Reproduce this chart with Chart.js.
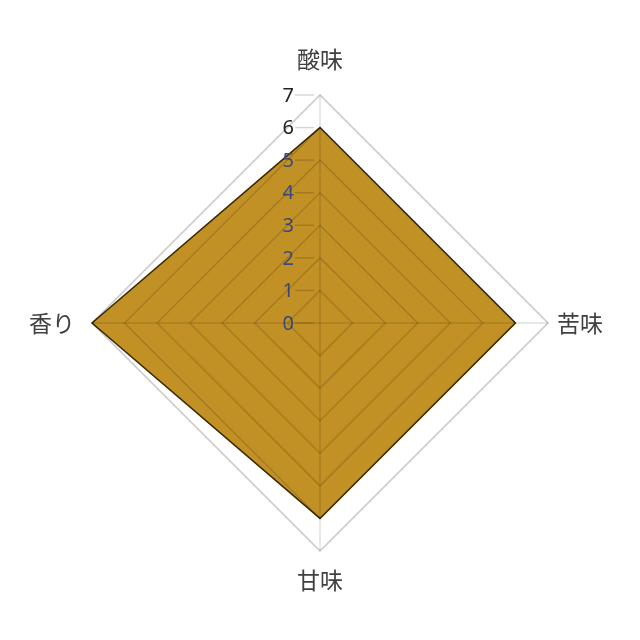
<!DOCTYPE html>
<html>
<head>
<meta charset="utf-8">
<script src="https://cdn.jsdelivr.net/npm/chart.js@4"></script>
<style>
  html, body { margin: 0; padding: 0; background: #fff; }
  #wrap { width: 640px; height: 640px; }
</style>
</head>
<body>
<div id="wrap"><canvas id="myChart" width="640" height="640"></canvas></div>
<script>
const tasteLabels = ['酸味', '苦味', '甘味', '香り']
const tasteScores = [6, 6, 6, 7]
const tickValues = [0, 1, 2, 3, 4, 5, 6, 7]
const labelPadding = [22, 9, 15, 17]

// tick numbers sit left of the vertical axis with a short dash
const tickMarks = {
  id: 'tickMarks',
  afterDatasetsDraw(chart) {
    const s = chart.scales.r
    const ctx = chart.ctx
    ctx.save()
    ctx.strokeStyle = 'rgba(0, 0, 0, 0.16)'
    ctx.lineWidth = 1.5
    ctx.font = '20px "Noto Sans"'
    ctx.textAlign = 'right'
    ctx.textBaseline = 'middle'
    tickValues.forEach(function (v) {
      const y = s.yCenter - s.getDistanceFromCenterForValue(v)
      ctx.beginPath()
      ctx.moveTo(s.xCenter - 25, y)
      ctx.lineTo(s.xCenter - 6, y)
      ctx.stroke()
      ctx.fillStyle = v <= 5 ? '#3b4a7c' : '#222'
      ctx.fillText(String(v), s.xCenter - 26, y + 1)
    })
    ctx.restore()
  },
}

const ctx = document.getElementById('myChart').getContext('2d')
const myChart = new Chart(ctx, {
  type: 'radar',
  data: {
    labels: tasteLabels,
    datasets: [
      {
        data: tasteScores,
        backgroundColor: '#c19126',
        borderColor: '#3d2900',
        borderWidth: 1.5,
        pointRadius: 0,
        pointHoverRadius: 0,
      },
    ],
  },
  options: {
    responsive: false,
    animation: false,
    layout: {
      padding: { left: 25, right: 33, top: 0, bottom: 0 },
    },
    plugins: {
      legend: { display: false },
      tooltip: { enabled: false },
    },
    scales: {
      r: {
        min: 0,
        max: 7,
        ticks: { stepSize: 1, display: false },
        grid: {
          color: function (c) {
            return c.tick.value === 7 ? 'rgba(0, 0, 0, 0.22)' : 'rgba(0, 0, 0, 0.15)'
          },
          lineWidth: 1.5,
          z: 1,
        },
        angleLines: { color: 'rgba(0, 0, 0, 0.12)', lineWidth: 1.5 },
        pointLabels: {
          color: '#404040',
          font: { size: 23, family: '"Noto Sans CJK JP"' },
          padding: function (c) {
            return labelPadding[c.index]
          },
        },
      },
    },
  },
  plugins: [tickMarks],
})
</script>
</body>
</html>
